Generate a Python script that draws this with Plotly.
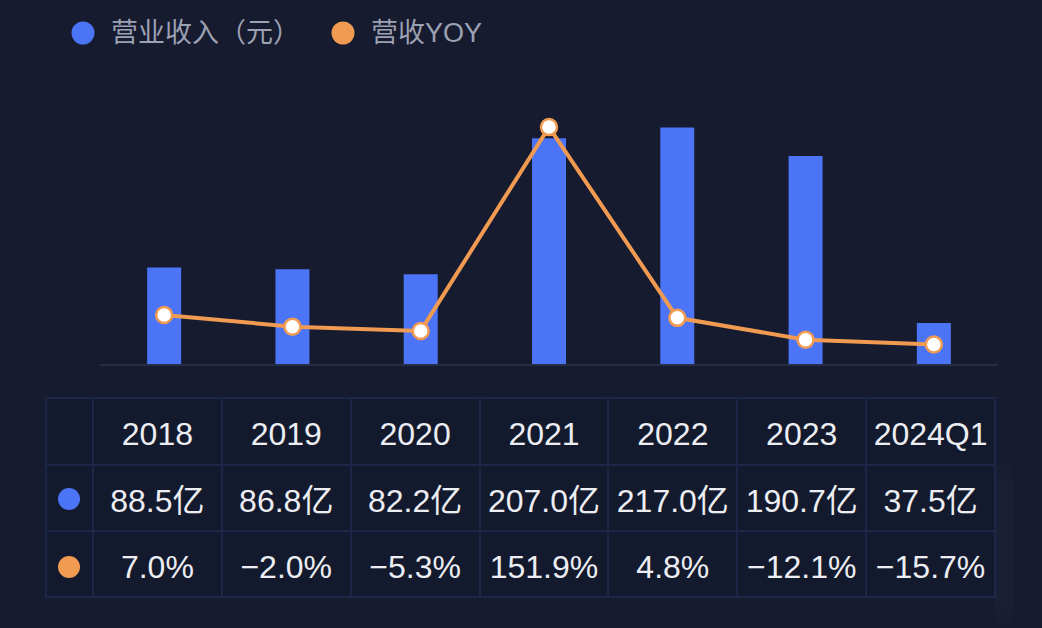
import plotly.graph_objects as go

categories = ["2018", "2019", "2020", "2021", "2022", "2023", "2024Q1"]
revenue = [88.5, 86.8, 82.2, 207.0, 217.0, 190.7, 37.5]   # 亿元
yoy = [7.0, -2.0, -5.3, 151.9, 4.8, -12.1, -15.7]          # %
series_names = ["营业收入（元）", "营收YOY"]

BG = "#161b2f"
CELL = "#141a2d"
BLUE = "#4b74f6"
ORANGE = "#f09a52"
TEXT = "#eceef3"
LEGEND_TEXT = "#9ca1b3"
GRID = "#1d2646"
CLEAR = "rgba(0,0,0,0)"

W, H = 1042, 628
FONT = "Liberation Sans, Noto Sans CJK SC, sans-serif"

def px_x(v):
    return v / W

def px_y(v):
    return 1 - v / H

fig = go.Figure()

fig.add_trace(go.Bar(
    x=categories, y=revenue, name=series_names[0],
    marker=dict(color=BLUE, line=dict(width=0)), width=0.265,
    yaxis="y", showlegend=False, hoverinfo="skip",
))
fig.add_trace(go.Scatter(
    x=categories, y=yoy, name=series_names[1], mode="lines+markers",
    line=dict(color=ORANGE, width=4),
    marker=dict(size=16, color="#ffffff", line=dict(color=ORANGE, width=2.5)),
    yaxis="y2", showlegend=False, hoverinfo="skip",
))

def fmt_rev(v):
    return f"{v:.1f}亿"

def fmt_yoy(v):
    s = f"{abs(v):.1f}%"
    return ("−" + s) if v < 0 else s

ncol = len(categories) + 1
colw = [47] + [129] * len(categories)
header_vals = [""] + categories
cell_vals = [["", ""]] + [[fmt_rev(r), fmt_yoy(y)] for r, y in zip(revenue, yoy)]

# grid of the table (empty cells, visible lines)
fig.add_trace(go.Table(
    domain=dict(x=[px_x(46), px_x(995)], y=[px_y(610), px_y(398)]),
    columnwidth=colw,
    header=dict(values=[""] * ncol, height=67,
                fill=dict(color=CELL), line=dict(color=GRID, width=2)),
    cells=dict(values=[["", ""]] * ncol, height=66,
               fill=dict(color=CELL), line=dict(color=GRID, width=2)),
))
# text of the table (transparent, vertically centred in the grid cells)
fig.add_trace(go.Table(
    domain=dict(x=[px_x(46), px_x(995)], y=[px_y(627), px_y(413)]),
    columnwidth=colw,
    header=dict(values=header_vals, height=67, align="center",
                fill=dict(color=CLEAR), line=dict(color=CLEAR, width=0),
                font=dict(family=FONT, size=32, color=TEXT)),
    cells=dict(values=cell_vals, height=66, align="center",
               fill=dict(color=CLEAR), line=dict(color=CLEAR, width=0),
               font=dict(family=FONT, size=32, color=TEXT)),
))

def dot(cx, cy, col, d):
    fig.add_shape(type="circle", xref="paper", yref="paper",
                  xsizemode="pixel", ysizemode="pixel",
                  xanchor=px_x(cx), yanchor=px_y(cy),
                  x0=-d / 2, x1=d / 2, y0=-d / 2, y1=d / 2,
                  fillcolor=col, line=dict(width=0))

# table row markers
dot(69, 499, BLUE, 22)
dot(69, 567, ORANGE, 22)

# legend
legend_items = [(series_names[0], BLUE, 83), (series_names[1], ORANGE, 343)]
for name, col, cx in legend_items:
    dot(cx, 33, col, 23)
    fig.add_annotation(x=px_x(cx + 26), y=px_y(33), xref="paper", yref="paper",
                       text=name, showarrow=False, xanchor="left", yanchor="middle",
                       font=dict(size=27, color=LEGEND_TEXT, family=FONT))

fig.update_layout(
    width=W, height=H,
    margin=dict(l=0, r=0, t=0, b=0),
    paper_bgcolor=BG, plot_bgcolor=BG,
    showlegend=False,
    xaxis=dict(domain=[px_x(100), px_x(998)], range=[-0.5, 6.5], type="category",
               showticklabels=False, showgrid=False, zeroline=False,
               showline=True, linecolor="#262d47", linewidth=2, ticks=""),
    yaxis=dict(domain=[px_y(364), px_y(90)], range=[0, 251.3],
               showticklabels=False, showgrid=False, zeroline=False, showline=False),
    yaxis2=dict(domain=[px_y(364), px_y(90)], overlaying="y", side="right",
                range=[-30.8, 180.5], showticklabels=False, showgrid=False,
                zeroline=False, showline=False),
)

fig.write_html("out.html")
